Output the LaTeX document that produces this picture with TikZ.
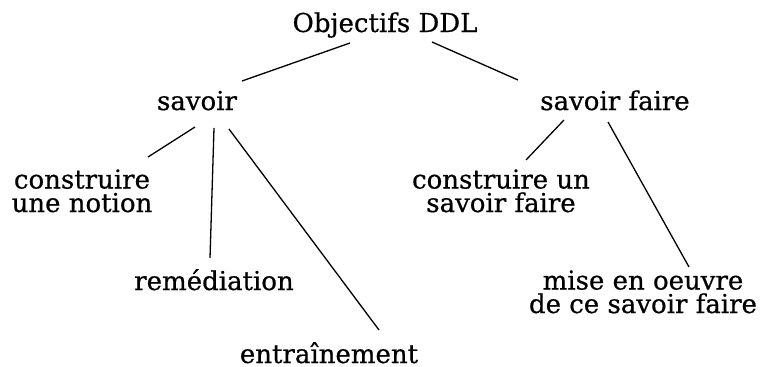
\documentclass[tikz,border=0pt]{standalone}
\usepackage{fontspec}
\setmainfont{DejaVu Serif}[FakeBold=0.6]
\usetikzlibrary{calc}
\tikzset{
  lbl/.style={inner sep=0pt, anchor=base, align=center, font=\fontsize{26}{23.5}\selectfont},
  link/.style={line width=1.3pt, black}
}
\begin{document}
\begin{tikzpicture}[x=1pt,y=-1pt]
\useasboundingbox (0,0) rectangle (761,367);
\node[lbl] (top) at (385,32) {Objectifs DDL};
\node[lbl] (sav) at (197,110) {savoir};
\node[lbl] (sf) at (615,110) {savoir faire};
\node[lbl] (cn) at (82,212) {construire\\une notion};
\node[lbl] (rem) at (214,290) {remédiation};
\node[lbl] (ent) at (329,363) {entraînement};
\node[lbl] (csf) at (501,212) {construire un\\savoir faire};
\node[lbl] (mise) at (643,313) {mise en oeuvre\\de ce savoir faire};
\draw[link] ($(top.base)+(-35,11)$) -- ($(sav.base)+(45,-29)$);
\draw[link] ($(top.base)+(47,10)$) -- ($(sf.base)+(-97,-30)$);
\draw[link] ($(sav.base)+(-2,17)$) -- ($(cn.base)+(66,-55)$);
\draw[link] ($(sav.base)+(17,18)$) -- ($(rem.base)+(-4,-32)$);
\draw[link] ($(sav.base)+(32,19)$) -- ($(ent.base)+(50,-33)$);
\draw[link] ($(sf.base)+(-51,10)$) -- ($(csf.base)+(25,-52)$);
\draw[link] ($(sf.base)+(-7,12)$) -- ($(mise.base)+(46,-46)$);
\end{tikzpicture}
\end{document}
